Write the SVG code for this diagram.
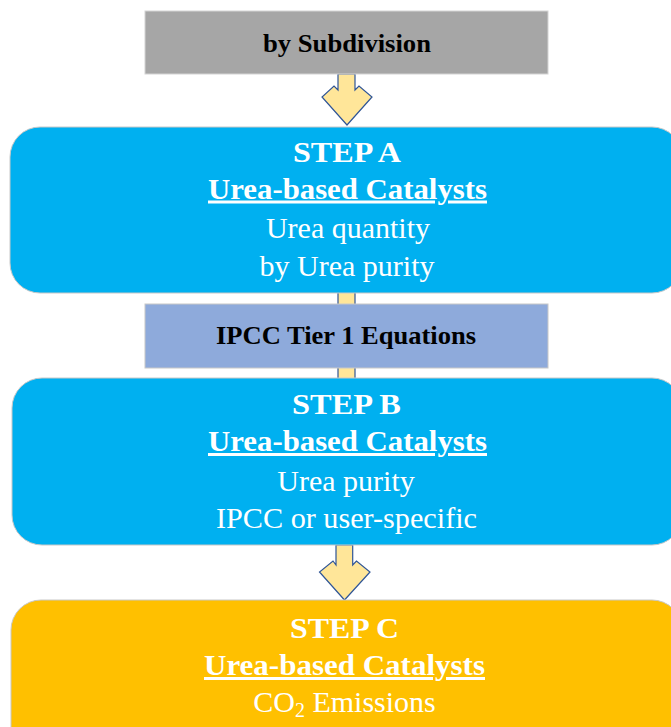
<svg xmlns="http://www.w3.org/2000/svg" width="671" height="727" viewBox="0 0 671 727">
  <style>
    .arrow { fill: #ffe699; stroke: #2f5597; stroke-width: 1.2; stroke-linejoin: miter; }
    .step { stroke: #c8c8c8; stroke-width: 1; }
    .blue { fill: #00b0f0; }
    .gold { fill: #ffc000; }
    .hdr { font-family: "Liberation Serif", "Times New Roman", serif; font-weight: bold; fill: #000000; text-anchor: middle; }
    .big { font-family: "Liberation Serif", "Times New Roman", serif; font-size: 30px; fill: #ffffff; text-anchor: middle; }
    .b { font-weight: bold; }
    .u { text-decoration: underline; }
  </style>
  <rect x="0" y="0" width="671" height="727" fill="#ffffff"/>

  <g id="connectors">
    <path class="arrow" d="M338,74 L338,90 L334,86 L322,97 L347,125 L372,97 L359,86 L355,90 L355,74 Z"/>
    <rect class="arrow" x="338" y="290" width="17" height="92"/>
    <path class="arrow" d="M336,545 L336,565 L333,561 L319.5,572 L344.5,600 L370,572 L356.5,561 L352.7,565 L352.7,545 Z"/>
  </g>

  <g id="subdivision">
    <rect x="145" y="11" width="403" height="63" fill="#a6a6a6" stroke="#d4d4d4" stroke-width="1"/>
    <text class="hdr" x="347" y="52" font-size="25" textLength="168" lengthAdjust="spacingAndGlyphs">by Subdivision</text>
  </g>

  <g id="stepA">
    <rect class="step blue" x="10" y="127" width="672" height="166" rx="30" ry="30"/>
    <text class="big b" x="347" y="162" font-size="31" textLength="108" lengthAdjust="spacingAndGlyphs">STEP A</text>
    <text class="big b u" x="347.5" y="198.5" textLength="279" lengthAdjust="spacingAndGlyphs">Urea-based Catalysts</text>
    <text class="big" x="348" y="238">Urea quantity</text>
    <text class="big" x="347" y="276">by Urea purity</text>
  </g>

  <g id="ipcc">
    <rect x="145" y="304" width="403" height="64" fill="#8eaadb" stroke="#c8c8c8" stroke-width="1"/>
    <text class="hdr" x="346" y="344" font-size="25" textLength="260" lengthAdjust="spacingAndGlyphs">IPCC Tier 1 Equations</text>
  </g>

  <g id="stepB">
    <rect class="step blue" x="12" y="378" width="670" height="167" rx="30" ry="30"/>
    <text class="big b" x="346.5" y="414" font-size="31" textLength="109" lengthAdjust="spacingAndGlyphs">STEP B</text>
    <text class="big b u" x="347.5" y="451" textLength="279" lengthAdjust="spacingAndGlyphs">Urea-based Catalysts</text>
    <text class="big" x="346" y="491">Urea purity</text>
    <text class="big" x="346.5" y="528" textLength="261" lengthAdjust="spacingAndGlyphs">IPCC or user-specific</text>
  </g>

  <g id="stepC">
    <rect class="step gold" x="11" y="600" width="671" height="167" rx="30" ry="30"/>
    <text class="big b" x="344.5" y="638" font-size="31" textLength="109" lengthAdjust="spacingAndGlyphs">STEP C</text>
    <text class="big b u" x="344.5" y="675" textLength="281" lengthAdjust="spacingAndGlyphs">Urea-based Catalysts</text>
    <text class="big" x="344.5" y="712" font-size="31">CO<tspan font-size="20" dy="5">2</tspan><tspan dy="-5"> Emissions</tspan></text>
  </g>
</svg>
